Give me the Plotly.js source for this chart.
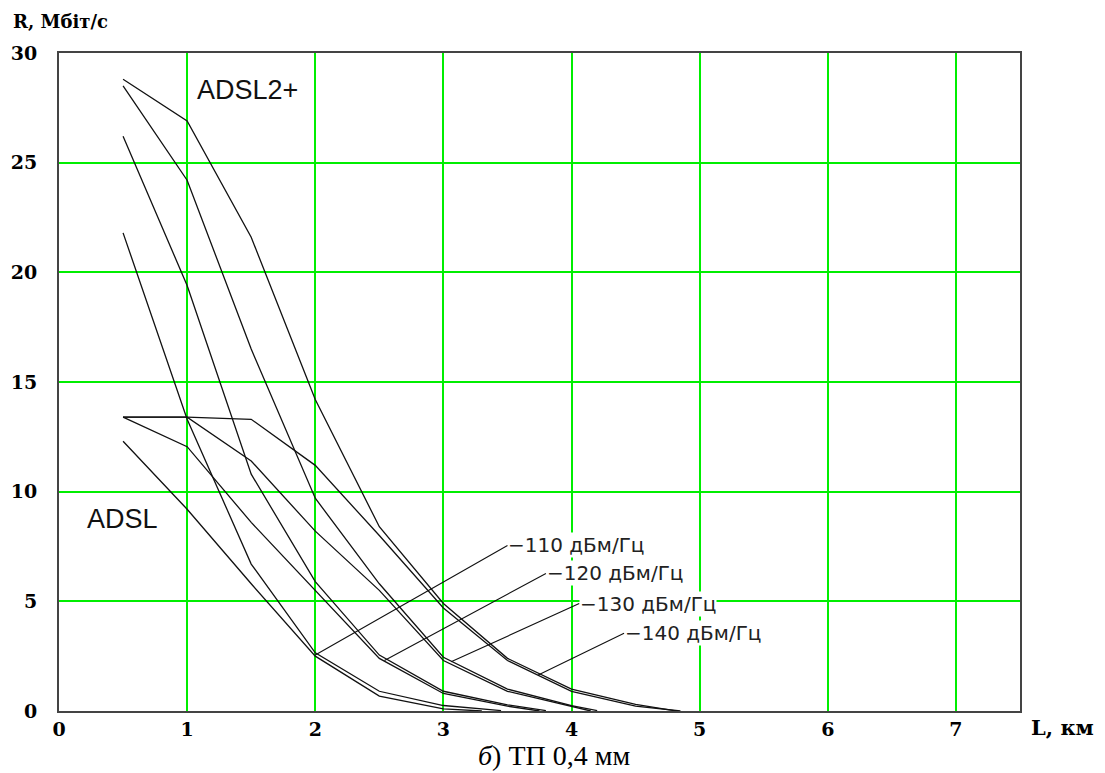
<!DOCTYPE html>
<html>
<head>
<meta charset="utf-8">
<script src="https://cdn.plot.ly/plotly-3.0.1.min.js"></script>
<style>html,body{margin:0;padding:0;background:#fff;}#chart{width:1105px;height:773px;}</style>
</head>
<body>
<div id="chart"></div>
<script>
// ADSL2+ curves (distance km, rate Mbit/s)
const adsl2p140X = [0.5, 1, 1.5, 2, 2.5, 3, 3.5, 4, 4.5, 4.8];
const adsl2p140Y = [28.8, 26.9, 21.6, 14.2, 8.4, 4.9, 2.4, 1.0, 0.3, 0.02];
const adsl2p130X = [0.5, 1, 1.5, 2, 2.5, 3, 3.5, 4, 4.2];
const adsl2p130Y = [28.5, 24.2, 16.5, 9.7, 5.8, 2.45, 1.0, 0.25, 0.02];
const adsl2p120X = [0.5, 1, 1.5, 2, 2.5, 3, 3.5, 3.8];
const adsl2p120Y = [26.2, 19.4, 10.8, 5.9, 2.55, 0.9, 0.28, 0.02];
const adsl2p110X = [0.5, 1, 1.5, 2, 2.5, 3, 3.45];
const adsl2p110Y = [21.8, 13.3, 6.7, 2.65, 0.9, 0.25, 0.02];
// ADSL curves
const adsl140X = [0.5, 1, 1.5, 2, 2.5, 3, 3.5, 4, 4.5, 4.85];
const adsl140Y = [13.4, 13.4, 13.3, 11.2, 8.0, 4.7, 2.3, 0.9, 0.22, 0];
const adsl130X = [0.5, 1, 1.5, 2, 2.5, 3, 3.5, 4, 4.15];
const adsl130Y = [13.4, 13.4, 11.4, 8.2, 5.5, 2.3, 0.9, 0.2, 0];
const adsl120X = [0.5, 1, 1.5, 2, 2.5, 3, 3.5, 3.75];
const adsl120Y = [13.4, 12.05, 8.6, 5.5, 2.4, 0.8, 0.22, 0];
const adsl110X = [0.5, 1, 1.5, 2, 2.5, 3, 3.3];
const adsl110Y = [12.3, 9.2, 5.8, 2.5, 0.68, 0.1, 0];

// noise labels and where their pointers touch the curves
const noiseLabels = ['\u2212110 дБм/Гц', '\u2212120 дБм/Гц', '\u2212130 дБм/Гц', '\u2212140 дБм/Гц'];
const noisePointX = [2.0, 2.54, 3.06, 3.74];
const noisePointY = [2.55, 2.3, 2.24, 1.64];
const noiseTextX = [3.5, 3.8, 4.06, 4.41];
const noiseTextY = [7.55, 6.27, 4.9, 3.55];

const xTicks = [0, 1, 2, 3, 4, 5, 6, 7];
const yTicks = [0, 5, 10, 15, 20, 25, 30];

const series = [
  [adsl2p140X, adsl2p140Y], [adsl2p130X, adsl2p130Y], [adsl2p120X, adsl2p120Y], [adsl2p110X, adsl2p110Y],
  [adsl140X, adsl140Y], [adsl130X, adsl130Y], [adsl120X, adsl120Y], [adsl110X, adsl110Y]
];

const traces = series.map(s => ({
  x: s[0], y: s[1], type: 'scatter', mode: 'lines',
  line: {color: '#111', width: 1.3}, showlegend: false, hoverinfo: 'skip'
}));

const tickFont = {family: 'DejaVu Serif', size: 19, color: '#000', weight: 'bold'};

const annotations = [];
for (let i = 0; i < noiseLabels.length; i++) {
  annotations.push({
    x: noisePointX[i], y: noisePointY[i], xref: 'x', yref: 'y',
    ax: noiseTextX[i], ay: noiseTextY[i], axref: 'x', ayref: 'y',
    text: noiseLabels[i], showarrow: true, arrowhead: 0, arrowwidth: 1.1, arrowcolor: '#111',
    xanchor: 'left', yanchor: 'middle', bgcolor: '#fff', borderpad: 0,
    font: {family: 'DejaVu Sans', size: 20, color: '#222'}
  });
}
annotations.push({x: 1.06, y: 28.3, xref: 'x', yref: 'y', text: 'ADSL2+', showarrow: false,
  xanchor: 'left', yanchor: 'middle', font: {family: 'Liberation Sans', size: 27, color: '#111'}});
annotations.push({x: 0.2, y: 8.75, xref: 'x', yref: 'y', text: 'ADSL', showarrow: false,
  xanchor: 'left', yanchor: 'middle', font: {family: 'Liberation Sans', size: 27, color: '#111'}});
annotations.push({x: -0.05, y: 1.0, xref: 'paper', yref: 'paper', yshift: 32, text: 'R, Мбіт/с', showarrow: false,
  xanchor: 'left', yanchor: 'middle', font: {family: 'DejaVu Serif', size: 18, color: '#000', weight: 'bold'}});
annotations.push({x: 1.0, y: 0, xref: 'paper', yref: 'paper', xshift: 9, yshift: -16, text: 'L, км', showarrow: false,
  xanchor: 'left', yanchor: 'middle', font: {family: 'DejaVu Serif', size: 21, color: '#000', weight: 'bold'}});
annotations.push({x: 0.515, y: 0, xref: 'paper', yref: 'paper', yshift: -44, text: '<i>б</i>) ТП 0,4 мм', showarrow: false,
  xanchor: 'center', yanchor: 'middle', font: {family: 'Liberation Serif', size: 28, color: '#000'}});

const layout = {
  width: 1105, height: 773,
  margin: {l: 59, r: 85, t: 53, b: 62},
  paper_bgcolor: '#fff', plot_bgcolor: '#fff',
  showlegend: false,
  xaxis: {
    range: [0, 7.5], tickvals: xTicks, ticktext: xTicks.map(String),
    showgrid: true, gridcolor: '#00ee00', gridwidth: 2, zeroline: false,
    showline: true, linecolor: '#444', linewidth: 2, mirror: true,
    ticks: '', ticklabelstandoff: 0, tickfont: tickFont
  },
  yaxis: {
    range: [0, 30], tickvals: yTicks, ticktext: yTicks.map(String),
    showgrid: true, gridcolor: '#00ee00', gridwidth: 2, zeroline: false,
    showline: true, linecolor: '#444', linewidth: 2, mirror: true,
    ticks: '', ticklabelstandoff: 16, tickfont: tickFont
  },
  annotations: annotations
};

Plotly.newPlot('chart', traces, layout, {staticPlot: true, displayModeBar: false});
</script>
</body>
</html>
